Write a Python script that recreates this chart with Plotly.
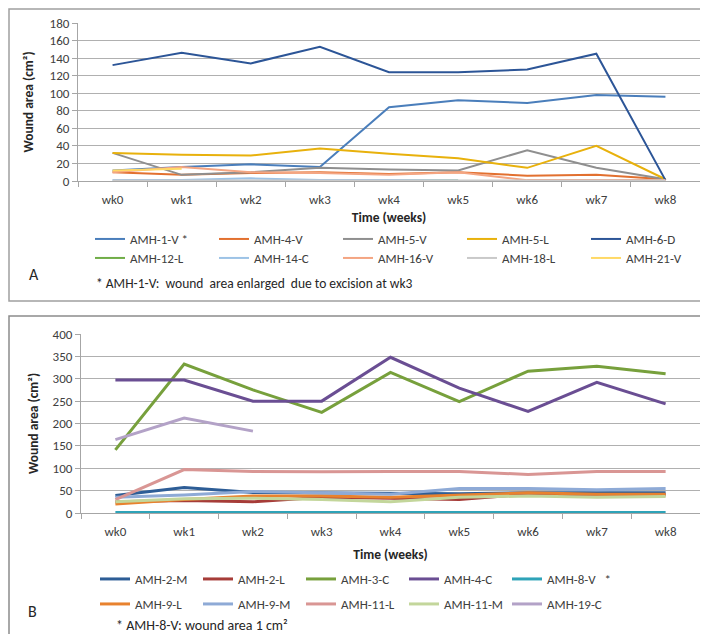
import plotly.graph_objects as go

weeks = ["wk0", "wk1", "wk2", "wk3", "wk4", "wk5", "wk6", "wk7", "wk8"]

# Panel A series (wound area, cm²)
a_names = ["AMH-1-V *", "AMH-4-V", "AMH-5-V", "AMH-5-L", "AMH-6-D",
           "AMH-12-L", "AMH-14-C", "AMH-16-V", "AMH-18-L", "AMH-21-V"]
amh_1_v = [12, 16, 19, 16, 84, 92, 89, 98, 96]
amh_4_v = [10, 7, 9, 10, 8, 10, 6, 7, 2]
amh_5_v = [32, 7, 10, 15, 13, 12, 35, 15, 2]
amh_5_l = [32, 30, 29, 37, 31, 26, 15, 40, 2]
amh_6_d = [132, 146, 134, 153, 124, 124, 127, 145, 1]
amh_12_l = [None, None, None, None, 0.5, 0.5, None, None, None]
amh_14_c = [1, 1, 3, 1, 1, 0.5, None, None, None]
amh_16_v = [10, 16, 10, 9, 7, 10, 1, 1, 1]
amh_18_l = [0.5, 0.5, 0.5, 0.5, 0.5, 0.5, 0.5, 0.5, 0.5]
amh_21_v = [12, 14, None, None, None, None, None, None, None]
a_values = [amh_1_v, amh_4_v, amh_5_v, amh_5_l, amh_6_d,
            amh_12_l, amh_14_c, amh_16_v, amh_18_l, amh_21_v]
a_colors = ["#4a7ebb", "#e2702f", "#8f8f8f", "#e8b10c", "#2c5597",
            "#70ad47", "#9dc3e6", "#f4a582", "#c9c9c9", "#ffd966"]

# Panel B series (wound area, cm²)
b_names = ["AMH-2-M", "AMH-2-L", "AMH-3-C", "AMH-4-C", "AMH-8-V\u00a0\u00a0\u00a0*",
           "AMH-9-L", "AMH-9-M", "AMH-11-L", "AMH-11-M", "AMH-19-C"]
amh_2_m = [39, 57, 46, 45, 45, 43, 45, 45, 45]
amh_2_l = [25, 28, 25, 35, 33, 30, 42, 40, 40]
amh_3_c = [141, 333, 275, 225, 314, 249, 317, 328, 311]
amh_4_c = [297, 297, 250, 250, 348, 279, 227, 292, 244]
amh_8_v = [1, 1, 1, 1, 1, 1, 1, 1, 1]
amh_9_l = [20, 30, 38, 38, 35, 40, 45, 42, 42]
amh_9_m = [35, 40, 48, 45, 42, 55, 55, 52, 55]
amh_11_l = [30, 97, 93, 92, 93, 93, 86, 93, 93]
amh_11_m = [25, 32, 33, 30, 25, 35, 38, 35, 37]
amh_19_c = [164, 212, 183, None, None, None, None, None, None]
b_values = [amh_2_m, amh_2_l, amh_3_c, amh_4_c, amh_8_v,
            amh_9_l, amh_9_m, amh_11_l, amh_11_m, amh_19_c]
b_colors = ["#2d5d96", "#a63c38", "#77a03c", "#6a4e93", "#2ea3b8",
            "#e8822e", "#8eaad6", "#d99694", "#c3d69b", "#b3a2c7"]

W, H = 708, 634
FONT = "Carlito, Lato, 'Liberation Sans', sans-serif"
TXT = "#404040"


def px(x):
    return x / W


def py(y):
    return 1 - y / H


fig = go.Figure()

for i, (n, v, c) in enumerate(zip(a_names, a_values, a_colors)):
    fig.add_trace(go.Scatter(
        x=weeks, y=v, name=n, mode="lines", line=dict(color=c, width=2),
        xaxis="x", yaxis="y", legend="legend" if i < 5 else "legend2",
        connectgaps=False))

for i, (n, v, c) in enumerate(zip(b_names, b_values, b_colors)):
    fig.add_trace(go.Scatter(
        x=weeks, y=v, name=n, mode="lines", line=dict(color=c, width=3),
        xaxis="x2", yaxis="y2", legend="legend3" if i < 5 else "legend4",
        connectgaps=False))

axis_common = dict(
    showline=True, linecolor="#a6a6a6", linewidth=1,
    ticks="outside", ticklen=5, tickcolor="#a6a6a6",
    tickfont=dict(family=FONT, size=13, color=TXT),
    automargin=False, zeroline=False,
)

title_font = dict(family=FONT, size=13.5, color="#262626", weight="bold")


def leg(x, y, ew):
    return dict(orientation="h", x=x, y=y, xanchor="left", yanchor="middle",
                bgcolor="rgba(0,0,0,0)", font=dict(family=FONT, size=13, color=TXT),
                entrywidth=ew, entrywidthmode="pixels", itemwidth=30,
                tracegroupgap=0, traceorder="normal")


fig.update_layout(
    width=W, height=H, margin=dict(l=0, r=0, t=0, b=0),
    paper_bgcolor="white", plot_bgcolor="white",
    font=dict(family=FONT, color=TXT),
    xaxis=dict(domain=[px(70), px(692)], anchor="y", type="category",
               range=[-0.5, 8.5], tickson="boundaries", showgrid=False,
               ticklabelstandoff=6,
               title=dict(text="Time (weeks)", font=title_font, standoff=6),
               **axis_common),
    yaxis=dict(domain=[py(173), py(15)], anchor="x", range=[0, 180], dtick=20,
               showgrid=True, gridcolor="#b0b0b0", gridwidth=1,
               title=dict(text="Wound area (cm²)", font=title_font, standoff=12),
               **axis_common),
    xaxis2=dict(domain=[px(73), px(692)], anchor="y2", type="category",
                range=[-0.5, 8.5], tickson="boundaries", showgrid=False,
                ticklabelstandoff=6,
                title=dict(text="Time (weeks)", font=title_font, standoff=11),
                **axis_common),
    yaxis2=dict(domain=[py(505), py(326)], anchor="x2", range=[0, 400], dtick=50,
                showgrid=True, gridcolor="#b0b0b0", gridwidth=1,
                title=dict(text="Wound area (cm²)", font=title_font, standoff=10),
                **axis_common),
    legend=leg(px(82), py(231), 79),
    legend2=leg(px(82), py(250), 79),
    legend3=leg(px(87), py(571), 58),
    legend4=leg(px(87), py(596), 58),
    showlegend=True,
)

# panel frames
fig.add_shape(type="rect", xref="paper", yref="paper",
              x0=px(1), x1=px(703), y0=py(293), y1=py(1),
              line=dict(color="#a0a0a0", width=1.5), fillcolor="rgba(0,0,0,0)", layer="below")
fig.add_shape(type="rect", xref="paper", yref="paper",
              x0=px(1), x1=px(703), y0=py(632), y1=py(308),
              line=dict(color="#8c8c8c", width=1.5), fillcolor="rgba(0,0,0,0)", layer="below")

# panel letters and footnotes
fig.add_annotation(text="A", x=px(19), y=py(266), xref="paper", yref="paper",
                   yanchor="middle", showarrow=False,
                   font=dict(family=FONT, size=16, color="#262626"))
fig.add_annotation(text="B", x=px(18), y=py(603), xref="paper", yref="paper",
                   yanchor="middle", showarrow=False,
                   font=dict(family=FONT, size=16, color="#262626"))
fig.add_annotation(text="* AMH-1-V:\u00a0 wound\u00a0 area enlarged\u00a0 due to excision at wk3",
                   x=px(86), y=py(275), xref="paper", yref="paper", xanchor="left",
                   yanchor="middle", showarrow=False,
                   font=dict(family=FONT, size=13.5, color="#262626"))
fig.add_annotation(text="* AMH-8-V: wound area 1 cm²",
                   x=px(106), y=py(617), xref="paper", yref="paper", xanchor="left",
                   yanchor="middle", showarrow=False,
                   font=dict(family=FONT, size=14, color="#262626"))

fig.write_html("out.html")
